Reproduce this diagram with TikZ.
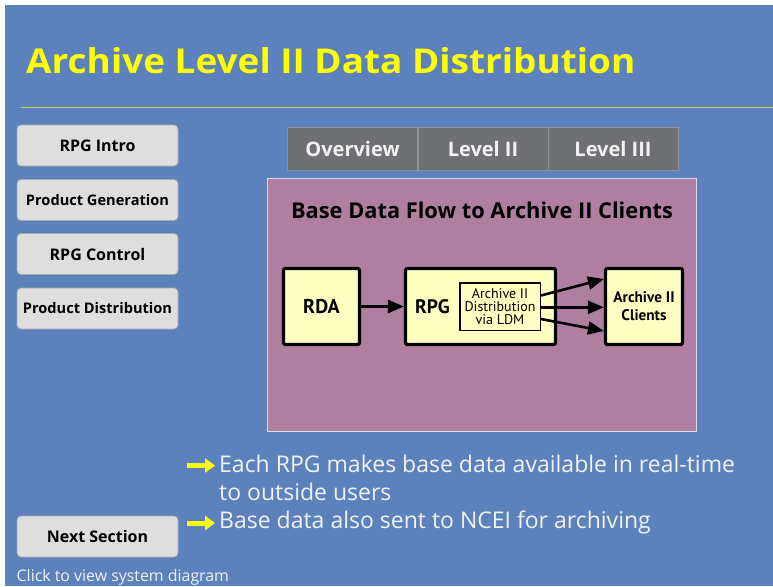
\documentclass[tikz,border=0pt]{standalone}
\usepackage{fontspec}
\setmainfont{Open Sans}
\newfontfamily\diafont{PT Sans}
\usetikzlibrary{arrows.meta}

\definecolor{slideblue}{HTML}{5B82BC}
\definecolor{titleyellow}{HTML}{FFFF00}
\definecolor{ruleline}{HTML}{C9D84A}
\definecolor{btnfill}{HTML}{DEDEDE}
\definecolor{btnedge}{HTML}{A9A9A9}
\definecolor{tabfill}{HTML}{6E7074}
\definecolor{tabedge}{HTML}{8E9196}
\definecolor{panelfill}{HTML}{AE7FA1}
\definecolor{paneledge}{HTML}{D9DCEA}
\definecolor{boxfill}{HTML}{FFFFC2}
\definecolor{softwhite}{HTML}{F2F2F2}

\tikzset{
	menubtn/.style={draw=btnedge, fill=btnfill, line width=0.8pt, rounded corners=4pt,
		minimum width=161pt, minimum height=41pt, inner sep=0pt, text=black},
	tabcell/.style={draw=tabedge, fill=tabfill, line width=0.8pt, minimum width=130pt,
		minimum height=43pt, inner sep=0pt, text=softwhite,
		font=\fontsize{20}{20}\selectfont\bfseries},
	flowbox/.style={draw=black, line width=3.2pt, fill=boxfill, rounded corners=2pt,
		inner sep=0pt},
	flowarrow/.style={line width=2.6pt, -{Triangle[length=16pt,width=13pt]}},
	pointer/.style={draw=titleyellow, line width=5pt, -{Triangle[length=10pt,width=14pt]}},
	bullettext/.style={anchor=base west, inner sep=0pt, text=softwhite,
		font=\fontsize{23}{23}\selectfont}
}

\begin{document}
\begin{tikzpicture}[x=1pt, y=-1pt]
\useasboundingbox (0,0) rectangle (773,586);
\fill[white] (0,0) rectangle (773,586);
\fill[slideblue] (5,5) rectangle (773,586);

% title and rule
\node[anchor=base west, inner sep=0pt, text=titleyellow] (title) at (26,73.5)
	{\resizebox{609pt}{26pt}{\bfseries Archive Level II Data Distribution}};
\coordinate (rulestart) at (20.5,107.3);
\coordinate (ruleend) at (773,107.3);
\draw[ruleline, line width=1.6pt] (rulestart) -- (ruleend);

% menu
\node[menubtn, font=\fontsize{16}{16}\selectfont\bfseries] (intro) at (97.5,145.5) {RPG Intro};
\node[menubtn, font=\fontsize{14.6}{14.6}\selectfont\bfseries] (prodgen) at (97.5,200) {Product Generation};
\node[menubtn, font=\fontsize{16}{16}\selectfont\bfseries] (control) at (97.5,254) {RPG Control};
\node[menubtn, font=\fontsize{14.6}{14.6}\selectfont\bfseries] (proddist) at (97.5,308.5) {Product Distribution};
\node[menubtn, font=\fontsize{16}{16}\selectfont\bfseries] (nextsec) at (97.5,536.5) {Next Section};
\node[anchor=base west, inner sep=0pt, text=softwhite, font=\fontsize{15.9}{15.9}\selectfont]
	(sysdiag) at (16.5,581.5) {Click to view system diagram};

% tabs
\node[tabcell] (overview) at (352.5,148.5) {Overview};
\node[tabcell] (levtwo) at (483,148.5) {Level II};
\node[tabcell] (levthree) at (613,148.5) {Level III};

% diagram panel
\node[draw=paneledge, fill=panelfill, line width=1.5pt, minimum width=429pt,
	minimum height=253pt, inner sep=0pt] (panel) at (482,305) {};
\node[anchor=base, inner sep=0pt, font=\fontsize{21.8}{21.8}\selectfont\bfseries]
	(paneltitle) at (482,218) {Base Data Flow to Archive II Clients};

\node[flowbox, minimum width=76pt, minimum height=76pt,
	font=\diafont\fontsize{20}{20}\selectfont\bfseries] (rda) at (321.5,306.5) {RDA};
\node[flowbox, minimum width=150pt, minimum height=76pt] (rpg) at (480.5,306.5) {};
\node[inner sep=0pt, font=\diafont\fontsize{19.5}{19.5}\selectfont\bfseries] (rpgname)
	at (432.5,307) {RPG};
\node[draw=black, line width=1.5pt, fill=boxfill, minimum width=80.5pt, minimum height=47.5pt,
	inner sep=0pt, align=center, font=\diafont\fontsize{14}{13}\selectfont] (ldm)
	at (500,306.5) {Archive II\\Distribution\\via LDM};
\node[flowbox, minimum width=77pt, minimum height=76pt, align=center,
	font=\diafont\fontsize{15.3}{18}\selectfont\bfseries] (clients)
	at (644,306.5) {Archive II\\Clients};

\draw[flowarrow] (rda.east) -- (rpg.west);
\draw[flowarrow] ([yshift=11pt]ldm.east) -- ([yshift=27.5pt]clients.west);
\draw[flowarrow] ([yshift=-0.8pt]ldm.east) -- ([yshift=-0.8pt]clients.west);
\draw[flowarrow] ([yshift=-12.5pt]ldm.east) -- ([yshift=-24.5pt]clients.west);

% bullets
\coordinate (tailone) at (187,465.5);
\coordinate (tipone) at (215,465.5);
\coordinate (tailtwo) at (187,523);
\coordinate (tiptwo) at (215,523);
\draw[pointer] (tailone) -- (tipone);
\draw[pointer] (tailtwo) -- (tiptwo);
\node[bullettext] (pointone) at (219,472.3) {Each RPG makes base data available in real-time};
\node[bullettext] (pointonemore) at (219,500.3) {to outside users};
\node[bullettext] (pointtwo) at (219,528.3) {Base data also sent to NCEI for archiving};
\end{tikzpicture}
\end{document}
